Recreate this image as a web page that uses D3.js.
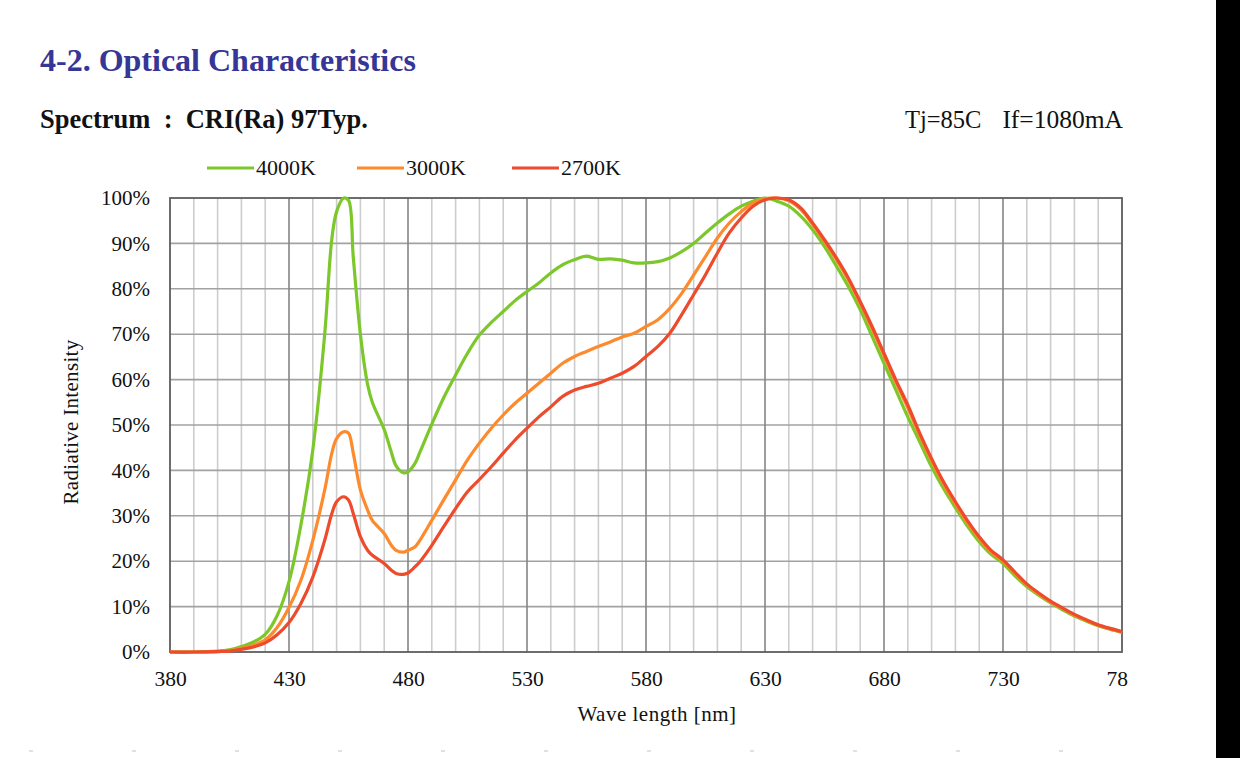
<!DOCTYPE html>
<html>
<head>
<meta charset="utf-8">
<script src="https://cdn.jsdelivr.net/npm/d3@7/dist/d3.min.js"></script>
<style>
  html, body { margin: 0; padding: 0; background: #fff; }
  svg { display: block; }
  text { font-family: "Liberation Serif", "Times New Roman", serif; fill: #111; }
</style>
</head>
<body>
<svg id="chart" width="1240" height="758"></svg>
<script>
// ---------- data ----------
const wavelengths = [380,390,400,405,410,415,420,425,430,435,440,445,448,450,453,455,457,460,463,465,470,473,475,478,480,483,485,490,495,500,505,510,515,520,525,530,535,540,545,550,555,560,565,570,575,580,585,590,595,600,605,610,615,620,625,630,635,640,645,650,655,660,665,670,675,680,685,690,695,700,705,710,715,720,725,730,735,740,745,750,755,760,765,770,775,780];

const series4000K = [0,0,0.2,0.5,1.2,2.2,3.9,8.0,15.5,28,44.5,70,91,97,100,99.5,87,70,59,55,49,44,41,39.5,39.7,41.6,44,50.2,56,61,65.8,69.8,72.6,75.0,77.4,79.4,81.3,83.5,85.3,86.4,87.2,86.5,86.6,86.3,85.7,85.7,86,86.8,88.2,90,92.3,94.5,96.5,98.2,99.3,100,99.3,98.2,96,93,89.3,85,80.5,75.4,69.5,63.6,57.7,51.8,46.3,40.8,36,31.8,27.8,24.3,21.5,19.5,16.8,14.4,12.5,10.8,9.3,7.9,6.8,5.8,5.0,4.3];

const series3000K = [0,0,0.1,0.3,0.8,1.5,2.7,5.4,9.8,15.8,24.6,35.7,43.8,47,48.5,48.2,43.8,35.7,31.3,29,26.1,23.5,22.4,22,22.4,23.2,24.6,29,33.5,37.9,42.3,46,49.3,52.2,54.8,57,59.2,61.4,63.6,65.1,66.2,67.3,68.3,69.4,70.2,71.7,73.2,75.7,79,83,87.1,91.2,94.5,97,98.9,99.8,100,99.4,97.5,94.2,90.4,86.4,82,76.8,71.2,65.3,59.4,53.8,47.7,42.1,37,32.6,28.5,25,22,20,17.4,14.8,12.8,11,9.6,8.1,7,5.9,5.1,4.4];

const series2700K = [0,0,0.1,0.2,0.6,1.1,2.0,3.8,6.5,10.7,16.5,24.6,30.5,33.1,34.2,33.5,30.5,25.4,22.4,21.3,19.5,18,17.3,17.1,17.4,18.8,19.9,23.5,27.6,31.6,35.3,38,40.8,43.8,46.7,49.3,51.8,54,56.3,57.7,58.5,59.2,60.3,61.4,62.9,65.1,67.3,70.2,74.3,78.7,83.1,87.9,92.3,95.6,98.2,99.6,100,99.6,97.8,94.5,90.8,86.8,82.4,77.2,71.7,65.8,59.9,54.4,48.2,42.6,37.5,33.1,29,25.4,22.4,20.3,17.6,15,13,11.2,9.7,8.3,7.1,6,5.2,4.5];

const seriesNames = ["4000K","3000K","2700K"];
const seriesColors = ["#7cc72a","#fd8a2c","#ee4a2c"];
const xTickValues = [380,430,480,530,580,630,680,730,780];
const yTickValues = [0,10,20,30,40,50,60,70,80,90,100];
const xMinorValues = d3.range(380, 781, 10);

// ---------- layout ----------
const svg = d3.select("#chart");
const W = 1240, H = 758;
const plot = {left: 170, right: 1122, top: 198, bottom: 652};

const x = d3.scaleLinear().domain([380, 780]).range([plot.left, plot.right]);
const y = d3.scaleLinear().domain([0, 100]).range([plot.bottom, plot.top]);

svg.append("rect").attr("width", W).attr("height", H).attr("fill", "#fff");

// headings
svg.append("text").attr("x", 40).attr("y", 71)
  .style("font-size", "32px").style("font-weight", "bold").style("fill", "#363696")
  .text("4-2. Optical Characteristics");

svg.append("text").attr("x", 40).attr("y", 128)
  .style("font-size", "26.5px").style("font-weight", "bold").style("white-space", "pre")
  .text("Spectrum  :  CRI(Ra) 97Typ.");

svg.append("text").attr("x", 905).attr("y", 128)
  .style("font-size", "24.5px")
  .text("Tj=85C");
svg.append("text").attr("x", 1123).attr("y", 128).attr("text-anchor", "end")
  .style("font-size", "25.5px")
  .text("If=1080mA");

// grid: vertical minor
const grid = svg.append("g");
grid.selectAll("line.vminor").data(xMinorValues.filter(v => (v - 380) % 50 !== 0))
  .enter().append("line")
  .attr("x1", d => x(d)).attr("x2", d => x(d))
  .attr("y1", plot.top).attr("y2", plot.bottom)
  .attr("stroke", "#cdcdcd").attr("stroke-width", 1.6);
// horizontal
grid.selectAll("line.h").data(yTickValues.filter(v => v > 0 && v < 100))
  .enter().append("line")
  .attr("x1", plot.left).attr("x2", plot.right)
  .attr("y1", d => y(d)).attr("y2", d => y(d))
  .attr("stroke", "#a2a2a2").attr("stroke-width", 1.6);
// vertical major
grid.selectAll("line.vmajor").data(xTickValues.filter(v => v > 380 && v < 780))
  .enter().append("line")
  .attr("x1", d => x(d)).attr("x2", d => x(d))
  .attr("y1", plot.top).attr("y2", plot.bottom)
  .attr("stroke", "#858585").attr("stroke-width", 1.6);

// border
svg.append("rect")
  .attr("x", plot.left).attr("y", plot.top)
  .attr("width", plot.right - plot.left).attr("height", plot.bottom - plot.top)
  .attr("fill", "none").attr("stroke", "#5e5e5e").attr("stroke-width", 1.8);

// axes (labels only); x labels clipped at the right like the source
svg.append("clipPath").attr("id", "xclip")
  .append("rect").attr("x", 0).attr("y", 650).attr("width", 1128).attr("height", 60);

const xAxisWrap = svg.append("g").attr("clip-path", "url(#xclip)");
const xAxis = xAxisWrap.append("g")
  .attr("transform", `translate(0,${plot.bottom})`)
  .call(d3.axisBottom(x).tickValues(xTickValues).tickSize(0).tickPadding(19).tickFormat(d3.format("d")));
xAxis.select(".domain").remove();
xAxis.selectAll("text").style("font-size", "21.5px").style("font-family", "Liberation Serif").attr("fill", "#111");

const yAxis = svg.append("g")
  .attr("transform", `translate(${plot.left},0)`)
  .call(d3.axisLeft(y).tickValues(yTickValues).tickSize(0).tickPadding(20).tickFormat(d => d + "%"));
yAxis.select(".domain").remove();
yAxis.selectAll("text").style("font-size", "21px").style("font-family", "Liberation Serif").attr("fill", "#111");

// axis titles
svg.append("text").attr("x", 657).attr("y", 721).attr("text-anchor", "middle")
  .style("font-size", "21px").style("letter-spacing", "0.5px")
  .text("Wave length [nm]");
svg.append("text").attr("transform", "translate(78,422) rotate(-90)").attr("text-anchor", "middle")
  .style("font-size", "21px").style("letter-spacing", "0.3px")
  .text("Radiative Intensity");

// curves
const allSeries = [series4000K, series3000K, series2700K];
const line = d3.line()
  .x(d => x(d[0])).y(d => y(Math.max(0, Math.min(100, d[1]))))
  .curve(d3.curveCatmullRom.alpha(0.5));

svg.append("g").selectAll("path.curve").data(allSeries).enter().append("path")
  .attr("d", s => line(wavelengths.map((w, i) => [w, s[i]])))
  .attr("fill", "none")
  .attr("stroke", (s, i) => seriesColors[i])
  .attr("stroke-width", 3.2)
  .attr("stroke-linejoin", "round");

// legend
const legendX = [207, 357, 512];
const lg = svg.append("g");
seriesNames.forEach((name, i) => {
  lg.append("line").attr("x1", legendX[i]).attr("x2", legendX[i] + 47)
    .attr("y1", 168).attr("y2", 168)
    .attr("stroke", seriesColors[i]).attr("stroke-width", 3.2);
  lg.append("text").attr("x", legendX[i] + 49).attr("y", 175)
    .style("font-size", "22px").text(name);
});

// page dashes and right black bar
svg.append("line").attr("x1", 29).attr("x2", 1135).attr("y1", 751).attr("y2", 751)
  .attr("stroke", "#c4c4c4").attr("stroke-width", 1.2).attr("stroke-dasharray", "4,99");
svg.append("rect").attr("x", 1216).attr("y", 0).attr("width", 24).attr("height", H).attr("fill", "#000");
</script>
</body>
</html>
